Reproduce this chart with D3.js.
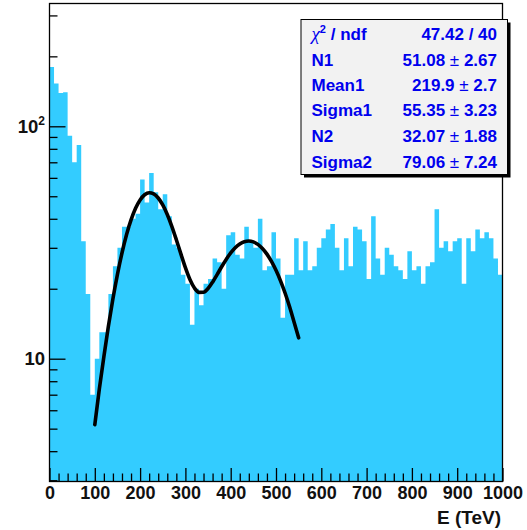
<!DOCTYPE html>
<html><head><meta charset="utf-8">
<script src="https://cdn.jsdelivr.net/npm/d3@7"></script>
<style>html,body{margin:0;padding:0;background:#fff;} svg{display:block;}</style>
</head><body>
<script>
// ---------- data ----------
const binEdgesStart = 0;
const binWidth = 10;
const counts = [180,153,139,140,91,70,83,32,19,7,
                10,13,13,19,25,30,37,37,40,42,
                59,47,63,52,44,51,41,31,30,23,
                21,14,20,17,21,22,27,26,20,34,
                35,28,27,37,32,30,40,24,25,35,
                27,15,23,23,33,24,32,24,25,30,
                33,36,38,30,24,33,25,37,36,32,
                22,41,27,23,30,28,25,24,22,29,
                24,25,21,25,26,44,30,32,29,32,
                33,21,33,29,36,33,35,33,27,23];
const fitX = [100,110,120,130,140,150,160,170,180,190,
              200,210,220,230,240,250,260,270,280,290,
              300,310,320,330,340,350,360,370,380,390,
              400,410,420,430,440,450,460,470,480,490,
              500,510,520,530,540,550];
const fitY = [5.2,7.4,10.2,13.8,18.1,23.05,28.50,34.12,39.54,44.36,
              48.20,50.74,51.75,51.19,49.14,45.86,41.71,37.11,32.49,28.24,
              24.64,21.91,20.13,19.29,19.31,20.05,21.35,23.01,24.87,26.75,
              28.51,30.01,31.15,31.87,32.09,31.81,31.04,29.81,28.18,26.21,
              24.00,21.62,19.17,16.73,14.36,12.3];
const xMajorTicks = [0,100,200,300,400,500,600,700,800,900,1000];
const xTickLabels = ["0","100","200","300","400","500","600","700","800","900","1000"];
const xMinorTicks = [20,40,60,80,120,140,160,180,220,240,260,280,320,340,360,380,420,440,460,480,
                     520,540,560,580,620,640,660,680,720,740,760,780,820,840,860,880,920,940,960,980];
const yMajorTicks = [10,100];
const yTickBase = ["10","10"];
const yTickExp = ["","2"];
const yMinorTicks = [3,4,5,6,7,8,9,20,30,40,50,60,70,80,90,200,300];
const xTitle = "E (TeV)";
const statsLabels = ["χ", "N1", "Mean1", "Sigma1", "N2", "Sigma2"];
const statsValA = ["47.42 / 40", "51.08", "219.9", "55.35", "32.07", "79.06"];
const statsValB = ["", "2.67", "2.7", "3.23", "1.88", "7.24"];

// ---------- layout ----------
const W = 527, H = 530;
const F = {l: 49.5, r: 502.5, t: 3.5, b: 481.5};
const FONT = "'Liberation Sans', Arial, Helvetica, sans-serif";

const svg = d3.select("body").append("svg").attr("width", W).attr("height", H)
  .style("font-family", FONT);

const x = d3.scaleLinear().domain([0, 1000]).range([F.l, F.r]);
const y = d3.scaleLog().domain([2.962, 337.6]).range([F.b, F.t]);

// histogram (filled step area)
const histPts = counts.map((v, i) => ({x: binEdgesStart + i * binWidth, v}));
histPts.push({x: binEdgesStart + counts.length * binWidth, v: counts[counts.length - 1]});
const area = d3.area().curve(d3.curveStepAfter)
  .x(d => x(d.x)).y0(F.b).y1(d => y(d.v));
svg.append("path").datum(histPts).attr("d", area).attr("fill", "#33ccff");

// fit curve
const line = d3.line().curve(d3.curveMonotoneX).x((d, i) => x(fitX[i])).y(d => y(d));
svg.append("path").datum(fitY).attr("d", line)
  .attr("fill", "none").attr("stroke", "#000").attr("stroke-width", 3.6)
  .attr("stroke-linejoin", "round").attr("stroke-linecap", "round");

// frame
svg.append("rect").attr("x", F.l).attr("y", F.t).attr("width", F.r - F.l).attr("height", F.b - F.t)
  .attr("fill", "none").attr("stroke", "#000").attr("stroke-width", 1.3);

function styleAxis(g) {
  g.select(".domain").remove();
  g.selectAll(".tick line").attr("stroke", "#000").attr("stroke-width", 1.3);
}

// y axis
svg.append("g").attr("transform", `translate(${F.l},0)`)
  .call(d3.axisLeft(y).tickValues(yMajorTicks).tickSize(-16).tickFormat(""))
  .call(styleAxis);
svg.append("g").attr("transform", `translate(${F.l},0)`)
  .call(d3.axisLeft(y).tickValues(yMinorTicks).tickSize(-8).tickFormat(""))
  .call(styleAxis);
yMajorTicks.forEach((v, i) => {
  const t = svg.append("text").attr("x", 45).attr("y", y(v) + 6.5)
    .attr("text-anchor", "end").attr("font-size", 18.5).attr("font-weight", "bold").attr("fill", "#111");
  t.append("tspan").text(yTickBase[i]);
  if (yTickExp[i]) t.append("tspan").attr("dy", -8).attr("font-size", 12).text(yTickExp[i]);
});

// x axis
svg.append("g").attr("transform", `translate(0,${F.b})`)
  .call(d3.axisBottom(x).tickValues(xMajorTicks).tickSize(-13.5).tickPadding(5)
        .tickFormat((d, i) => xTickLabels[i]))
  .call(styleAxis)
  .call(g => g.selectAll("text").attr("font-size", 18).attr("font-weight", "bold")
        .attr("fill", "#111").attr("font-family", FONT));
svg.append("g").attr("transform", `translate(0,${F.b})`)
  .call(d3.axisBottom(x).tickValues(xMinorTicks).tickSize(-8).tickFormat(""))
  .call(styleAxis);

svg.append("text").attr("x", 501).attr("y", 523.5).attr("text-anchor", "end")
  .attr("font-size", 19).attr("font-weight", "bold").attr("fill", "#111").text(xTitle);

// stats box
const B = {x: 301, y: 19.5, w: 206.5, h: 155};
svg.append("rect").attr("x", B.x + 3).attr("y", B.y + 3).attr("width", B.w).attr("height", B.h).attr("fill", "#000");
svg.append("rect").attr("x", B.x).attr("y", B.y).attr("width", B.w).attr("height", B.h)
  .attr("fill", "#f2f2f2").attr("stroke", "#000").attr("stroke-width", 1);
const baselines = [39.5, 65.5, 91, 116, 142, 167.5];
const blue = "#0000ee";
statsLabels.forEach((lab, i) => {
  const t = svg.append("text").attr("x", 311.5).attr("y", baselines[i])
    .attr("font-size", 17).attr("font-weight", "bold").attr("fill", blue);
  if (i === 0) {
    t.append("tspan").attr("font-style", "italic").attr("font-weight", "normal").attr("font-family", "'Liberation Serif', serif").attr("font-size", 19).text(lab);
    t.append("tspan").attr("dy", -7).attr("font-size", 11).text("2");
    t.append("tspan").attr("dy", 7).text(" / ndf");
  } else {
    t.text(lab);
  }
  const v = svg.append("text").attr("x", 497).attr("y", baselines[i]).attr("text-anchor", "end")
    .attr("font-size", 17).attr("font-weight", "bold").attr("fill", blue);
  v.append("tspan").text(statsValA[i]);
  if (statsValB[i]) {
    v.append("tspan").attr("font-weight", "normal").text(" ± ");
    v.append("tspan").text(statsValB[i]);
  }
});
</script>
</body></html>
